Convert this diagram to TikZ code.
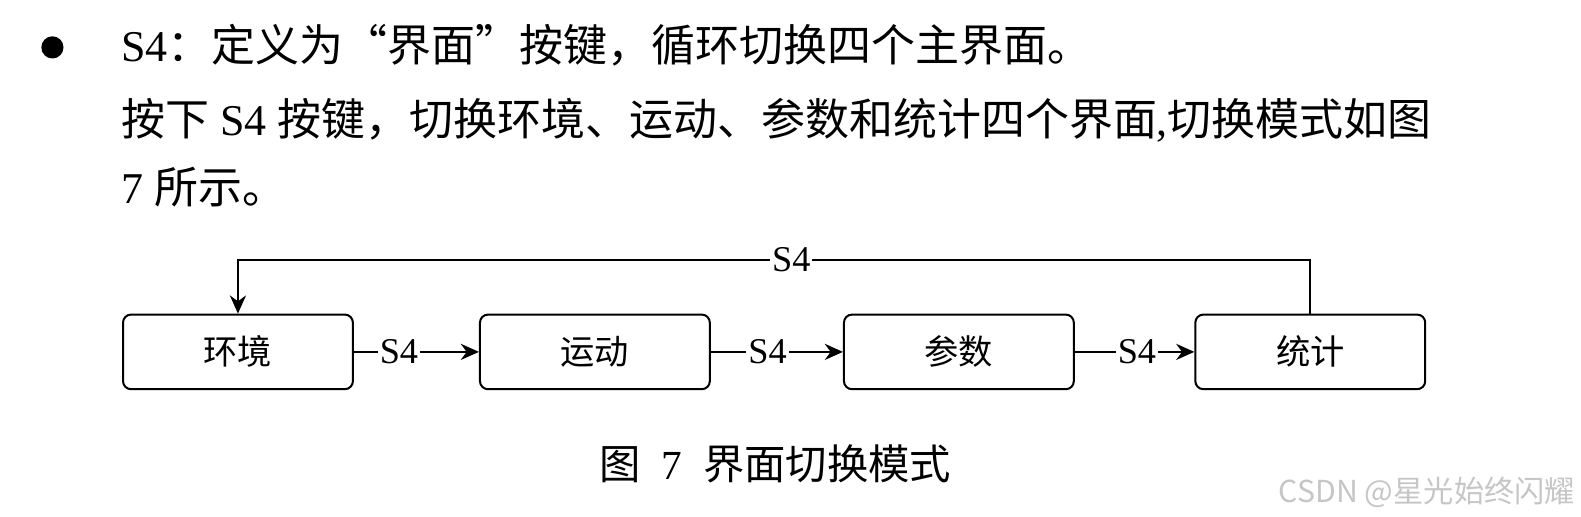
\documentclass[tikz,border=0pt]{standalone}
\usepackage{fontspec}
\setmainfont{Noto Sans CJK SC}
\newfontfamily\lat{Liberation Serif}
\usetikzlibrary{arrows.meta, positioning}

\begin{document}
\begin{tikzpicture}[x=0.5pt, y=-0.5pt,
    every node/.style={inner sep=0pt},
    body/.style={anchor=base west, font=\fontsize{21.8}{26}\selectfont},
    screen/.style={draw, line width=1pt, rounded corners=4pt,
        minimum width=114pt, minimum height=37pt, font=\fontsize{17}{20}\selectfont},
    link/.style={line width=1pt, -{Stealth[length=9pt, width=8pt]}},
    keylabel/.style={fill=white, inner xsep=1pt, inner ysep=2pt, font=\lat\fontsize{18}{20}\selectfont}
]

% page size of the reference
\useasboundingbox (0,0) rectangle (1568,512);

% Text above the figure
\node[circle, fill, minimum size=11pt] (bullet) at (52,47) {};
\node[body] (line1) at (120,61) {{\lat S4}：定义为“界面”按键，循环切换四个主界面。};
\node[body] (line2) at (120,134) {按下{\lat\ S4\ }按键，切换环境、运动、参数和统计四个界面{\lat ,}切换模式如图};
\node[body] (line3) at (120,202) {{\lat 7\ }所示。};

% The four screens
\node[screen] (huanjing) at (236,349) {环境};
\node[screen] (yundong) at (590,349) {运动};
\node[screen] (canshu) at (951,349) {参数};
\node[screen] (tongji) at (1299.5,349) {统计};

% S4 steps from one screen to the next
\draw[link] (huanjing) -- node[keylabel, pos=0.36] {S4} (yundong);
\draw[link] (yundong) -- node[keylabel, pos=0.43] {S4} (canshu);
\draw[link] (canshu) -- node[keylabel, pos=0.52] {S4} (tongji);

% back to the first screen
\coordinate (topline) at (0,258);
\draw[link] (tongji.north) -- (tongji.north |- topline)
    -- node[keylabel, pos=0.484] {S4} (huanjing.north |- topline) -- (huanjing.north);

% Caption
\node[anchor=base, font=\fontsize{20.5}{24}\selectfont] (caption) at (769,476)
    {图\enspace{\lat 7}\enspace 界面切换模式};

% Watermark
\node[anchor=base west, text=gray!45, font=\fontsize{15}{18}\selectfont] (mark) at (1268,498)
    {CSDN @星光始终闪耀};

\end{tikzpicture}
\end{document}
